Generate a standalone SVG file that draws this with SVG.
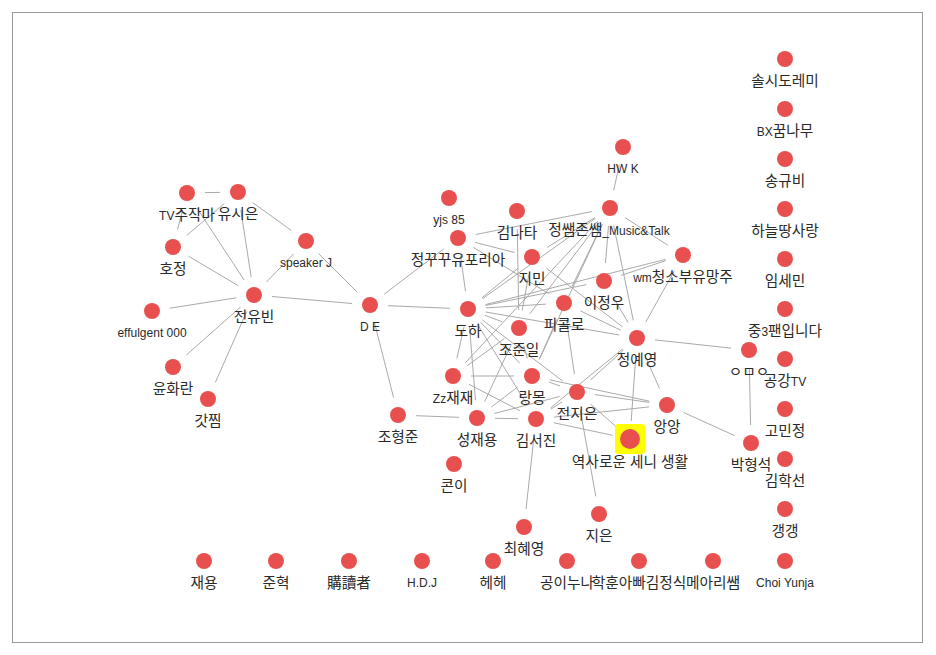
<svg xmlns="http://www.w3.org/2000/svg" width="936" height="655" viewBox="0 0 936 655">
<style>
text{font-family:"Liberation Sans","Noto Sans CJK KR",sans-serif;font-size:14.7px;fill:#2a2a2a;text-anchor:middle}
.l{font-size:12px}
.n circle{fill:#e8504f}
#edges line{stroke:#aaa;stroke-width:1}
</style>
<rect x="0" y="0" width="936" height="655" fill="#fff"/>
<rect x="12.5" y="12.5" width="910" height="630" fill="none" stroke="#999" stroke-width="1"/>
<g id="edges">
<line x1="205" y1="192.6" x2="220" y2="192.4"/>
<line x1="182.5" y1="210.4" x2="177.5" y2="229.6"/>
<line x1="196.9" y1="208" x2="244.1" y2="280"/>
<line x1="224.2" y1="203.6" x2="186.8" y2="235.4"/>
<line x1="240.8" y1="209.8" x2="251.2" y2="277.2"/>
<line x1="252.6" y1="202.5" x2="291.4" y2="230.5"/>
<line x1="188.5" y1="256.2" x2="238.5" y2="285.8"/>
<line x1="293.5" y1="254" x2="266.5" y2="282"/>
<line x1="318.7" y1="253.7" x2="357.3" y2="292.3"/>
<line x1="271.9" y1="296.5" x2="352.1" y2="303.5"/>
<line x1="169.8" y1="308.2" x2="236.2" y2="297.8"/>
<line x1="186.4" y1="355" x2="240.6" y2="307"/>
<line x1="215.3" y1="382.5" x2="246.7" y2="311.5"/>
<line x1="374.4" y1="322.4" x2="393.6" y2="397.6"/>
<line x1="388" y1="305.7" x2="450" y2="308.3"/>
<line x1="384.3" y1="294.1" x2="443.7" y2="248.9"/>
<line x1="453" y1="215.6" x2="454" y2="220.4"/>
<line x1="619.3" y1="164.6" x2="613.7" y2="190.4"/>
<line x1="460.5" y1="255.8" x2="465.5" y2="291.2"/>
<line x1="475.7" y1="234.5" x2="592.3" y2="211.5"/>
<line x1="475.4" y1="242.5" x2="514.6" y2="252.5"/>
<line x1="473.4" y1="247.4" x2="548.6" y2="293.6"/>
<line x1="517.3" y1="229" x2="518.7" y2="310"/>
<line x1="482" y1="297.7" x2="518" y2="268.3"/>
<line x1="482.7" y1="298.6" x2="595.3" y2="218.4"/>
<line x1="485.6" y1="305.4" x2="586.4" y2="284.6"/>
<line x1="485.5" y1="304.6" x2="665.5" y2="259.4"/>
<line x1="486" y1="307.9" x2="546" y2="304.1"/>
<line x1="485.7" y1="312" x2="619.3" y2="335"/>
<line x1="484.9" y1="315.3" x2="502.1" y2="321.7"/>
<line x1="464.1" y1="326.6" x2="456.9" y2="358.4"/>
<line x1="469.5" y1="326.9" x2="475.5" y2="400.1"/>
<line x1="477.5" y1="324.3" x2="526.5" y2="403.7"/>
<line x1="480.4" y1="322" x2="519.6" y2="363"/>
<line x1="482.3" y1="319.9" x2="562.7" y2="381.1"/>
<line x1="547.2" y1="247.4" x2="594.8" y2="217.6"/>
<line x1="546.3" y1="268" x2="622.7" y2="327"/>
<line x1="528.8" y1="274.7" x2="522.2" y2="310.3"/>
<line x1="529.9" y1="313.7" x2="599.1" y2="222.3"/>
<line x1="511.4" y1="344.3" x2="484.6" y2="401.7"/>
<line x1="504.4" y1="338.6" x2="467.6" y2="365.4"/>
<line x1="523.7" y1="345.4" x2="527.3" y2="358.6"/>
<line x1="566.6" y1="320.8" x2="574.4" y2="374.2"/>
<line x1="580.2" y1="310.8" x2="620.8" y2="330.2"/>
<line x1="556.8" y1="319.5" x2="539.2" y2="359.5"/>
<line x1="571.8" y1="286.8" x2="602.2" y2="224.2"/>
<line x1="613" y1="296.6" x2="628" y2="322.4"/>
<line x1="674.3" y1="270.8" x2="645.7" y2="322.2"/>
<line x1="665.9" y1="260.6" x2="621.1" y2="275.4"/>
<line x1="625.1" y1="217.7" x2="667.9" y2="245.3"/>
<line x1="608.5" y1="226" x2="605.5" y2="263"/>
<line x1="613.7" y1="225.6" x2="633.3" y2="320.4"/>
<line x1="597.7" y1="221.2" x2="465.3" y2="362.8"/>
<line x1="602.4" y1="224.3" x2="539.6" y2="358.7"/>
<line x1="654.9" y1="339.9" x2="731.1" y2="348.1"/>
<line x1="644.4" y1="354.4" x2="659.6" y2="388.6"/>
<line x1="635.8" y1="356" x2="631.2" y2="421"/>
<line x1="623.6" y1="350" x2="590.4" y2="380"/>
<line x1="622.6" y1="349" x2="550.4" y2="408"/>
<line x1="749.4" y1="368" x2="750.6" y2="425"/>
<line x1="683.4" y1="412.4" x2="734.6" y2="435.6"/>
<line x1="649.2" y1="402.4" x2="594.8" y2="394.6"/>
<line x1="649.1" y1="406.9" x2="553.9" y2="417.1"/>
<line x1="649.4" y1="401.2" x2="549.6" y2="379.8"/>
<line x1="562" y1="401.9" x2="551" y2="409.1"/>
<line x1="559.6" y1="396.5" x2="494.4" y2="413.5"/>
<line x1="560" y1="386" x2="549" y2="382"/>
<line x1="580.2" y1="409.7" x2="595.8" y2="496.3"/>
<line x1="590.5" y1="404" x2="616.5" y2="427"/>
<line x1="553.6" y1="422.7" x2="612.4" y2="435.3"/>
<line x1="534" y1="436.9" x2="526" y2="509.1"/>
<line x1="459" y1="417.3" x2="416" y2="415.7"/>
<line x1="495" y1="418.3" x2="518" y2="418.7"/>
<line x1="469" y1="434.1" x2="462" y2="447.9"/>
<line x1="491.3" y1="407.1" x2="517.7" y2="386.9"/>
<line x1="471" y1="376" x2="514" y2="376"/>
<line x1="469" y1="384.3" x2="520" y2="410.7"/>
</g>
<g id="n-tv" class="n"><circle cx="187" cy="193" r="8"/><text x="187" y="219.5"><tspan class="l">TV</tspan>주작마</text></g>
<g id="n-yusieun" class="n"><circle cx="238" cy="192" r="8"/><text x="238" y="218.5">유시은</text></g>
<g id="n-hojeong" class="n"><circle cx="173" cy="247" r="8"/><text x="173" y="273.5">호정</text></g>
<g id="n-speakerj" class="n"><circle cx="306" cy="241" r="8"/><text class="l" x="306" y="267">speaker J</text></g>
<g id="n-jeonyubin" class="n"><circle cx="254" cy="295" r="8"/><text x="254" y="321.5">전유빈</text></g>
<g id="n-effulgent" class="n"><circle cx="152" cy="311" r="8"/><text class="l" x="152" y="337">effulgent 000</text></g>
<g id="n-yunhwaran" class="n"><circle cx="173" cy="367" r="8"/><text x="173" y="393.5">윤화란</text></g>
<g id="n-gatjjim" class="n"><circle cx="208" cy="399" r="8"/><text x="208" y="425.5">갓찜</text></g>
<g id="n-de" class="n"><circle cx="370" cy="305" r="8"/><text class="l" x="370" y="331">D E</text></g>
<g id="n-johyeongjun" class="n"><circle cx="398" cy="415" r="8"/><text x="398" y="441.5">조형준</text></g>
<g id="n-yjs85" class="n"><circle cx="449" cy="198" r="8"/><text class="l" x="449" y="224">yjs 85</text></g>
<g id="n-jeongkku" class="n"><circle cx="458" cy="238" r="8"/><text x="458" y="264.5">정꾸꾸유포리아</text></g>
<g id="n-kimnata" class="n"><circle cx="517" cy="211" r="8"/><text x="517" y="237.5">김나타</text></g>
<g id="n-jimin" class="n"><circle cx="532" cy="257" r="8"/><text x="532" y="283.5">지민</text></g>
<g id="n-doha" class="n"><circle cx="468" cy="309" r="8"/><text x="468" y="335.5">도하</text></g>
<g id="n-jojunil" class="n"><circle cx="519" cy="328" r="8"/><text x="519" y="354.5">조준일</text></g>
<g id="n-piccolo" class="n"><circle cx="564" cy="303" r="8"/><text x="564" y="329.5">피콜로</text></g>
<g id="n-jeongssaem" class="n"><circle cx="610" cy="208" r="8"/><text x="609" y="234.5">정쌤존쌤<tspan class="l">_Music&amp;Talk</tspan></text></g>
<g id="n-hwk" class="n"><circle cx="623" cy="147" r="8"/><text class="l" x="623" y="173">HW K</text></g>
<g id="n-wm" class="n"><circle cx="683" cy="255" r="8"/><text x="683" y="281.5"><tspan class="l">wm</tspan>청소부유망주</text></g>
<g id="n-leejeongwoo" class="n"><circle cx="604" cy="281" r="8"/><text x="604" y="307.5">이정우</text></g>
<g id="n-jeongyeyeong" class="n"><circle cx="637" cy="338" r="8"/><text x="637" y="364.5">정예영</text></g>
<g id="n-omo" class="n"><circle cx="749" cy="350" r="8"/><text x="749" y="376.5">ㅇㅁㅇ</text></g>
<g id="n-zz" class="n"><circle cx="453" cy="376" r="8"/><text x="453" y="402.5"><tspan class="l">Zz</tspan>재재</text></g>
<g id="n-rangmong" class="n"><circle cx="532" cy="376" r="8"/><text x="532" y="402.5">랑몽</text></g>
<g id="n-jeonjieun" class="n"><circle cx="577" cy="392" r="8"/><text x="577" y="418.5">전지은</text></g>
<g id="n-angang" class="n"><circle cx="667" cy="405" r="8"/><text x="667" y="431.5">앙앙</text></g>
<g id="n-seongjaeyong" class="n"><circle cx="477" cy="418" r="8"/><text x="477" y="444.5">성재용</text></g>
<g id="n-kimseojin" class="n"><circle cx="536" cy="419" r="8"/><text x="536" y="445.5">김서진</text></g>
<g id="n-yeoksa" class="n"><rect x="615" y="424" width="30" height="30" rx="3" fill="#ffff00"/><circle cx="630" cy="439" r="10" fill="#fff"/><circle cx="630" cy="439" r="8"/><text x="630" y="466.5">역사로운 세니 생활</text></g>
<g id="n-parkhyeongseok" class="n"><circle cx="751" cy="443" r="8"/><text x="751" y="469.5">박형석</text></g>
<g id="n-koni" class="n"><circle cx="454" cy="464" r="8"/><text x="454" y="490.5">콘이</text></g>
<g id="n-choihyeyeong" class="n"><circle cx="524" cy="527" r="8"/><text x="524" y="553.5">최혜영</text></g>
<g id="n-jieun" class="n"><circle cx="599" cy="514" r="8"/><text x="599" y="540.5">지은</text></g>
<g id="n-solsi" class="n"><circle cx="785" cy="59" r="8"/><text x="785" y="85.5">솔시도레미</text></g>
<g id="n-bx" class="n"><circle cx="785" cy="109" r="8"/><text x="785" y="135.5"><tspan class="l">BX</tspan>꿈나무</text></g>
<g id="n-songgyubi" class="n"><circle cx="785" cy="159" r="8"/><text x="785" y="185.5">송규비</text></g>
<g id="n-haneul" class="n"><circle cx="785" cy="209" r="8"/><text x="785" y="235.5">하늘땅사랑</text></g>
<g id="n-imsemin" class="n"><circle cx="785" cy="259" r="8"/><text x="785" y="285.5">임세민</text></g>
<g id="n-jung3" class="n"><circle cx="785" cy="309" r="8"/><text x="785" y="335.5">중<tspan class="l">3</tspan>팬입니다</text></g>
<g id="n-gonggang" class="n"><circle cx="785" cy="359" r="8"/><text x="785" y="385.5">공강<tspan class="l">TV</tspan></text></g>
<g id="n-gominjeong" class="n"><circle cx="785" cy="409" r="8"/><text x="785" y="435.5">고민정</text></g>
<g id="n-kimhakseon" class="n"><circle cx="785" cy="459" r="8"/><text x="785" y="485.5">김학선</text></g>
<g id="n-gaenggaeng" class="n"><circle cx="785" cy="509" r="8"/><text x="785" y="535.5">갱갱</text></g>
<g id="n-choiyunja" class="n"><circle cx="785" cy="561" r="8"/><text class="l" x="785" y="587">Choi Yunja</text></g>
<g id="n-jaeyong" class="n"><circle cx="204" cy="561" r="8"/><text x="204" y="587.5">재용</text></g>
<g id="n-junhyeok" class="n"><circle cx="276" cy="561" r="8"/><text x="276" y="587.5">준혁</text></g>
<g id="n-reader" class="n"><circle cx="349" cy="561" r="8"/><text x="349" y="587.5">購讀者</text></g>
<g id="n-hdj" class="n"><circle cx="422" cy="561" r="8"/><text class="l" x="422" y="587">H.D.J</text></g>
<g id="n-hehe" class="n"><circle cx="493" cy="561" r="8"/><text x="493" y="587.5">헤헤</text></g>
<g id="n-gongi" class="n"><circle cx="567" cy="561" r="8"/><text x="567" y="587.5">공이누나</text></g>
<g id="n-hakhun" class="n"><circle cx="639" cy="561" r="8"/><text x="639" y="587.5">학훈아빠김정식</text></g>
<g id="n-meari" class="n"><circle cx="713" cy="561" r="8"/><text x="713" y="587.5">메아리쌤</text></g>
</svg>
